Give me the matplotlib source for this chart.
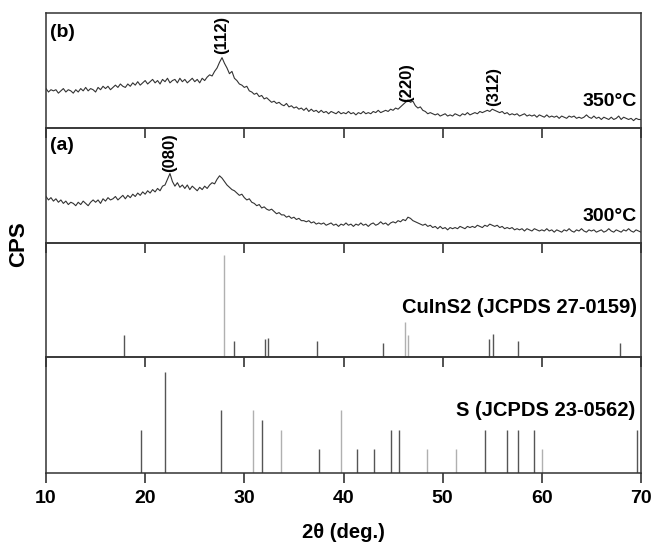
import numpy as np
import matplotlib
matplotlib.use("Agg")
import matplotlib.pyplot as plt

plt.rcParams['font.family'] = ['Liberation Sans', 'DejaVu Sans']

# ---------------- data ----------------
x_start, x_step = 10.0, 0.25

b_350 = [
    0.34, 0.31, 0.33, 0.32, 0.33, 0.30, 0.32, 0.34, 0.31, 0.33, 0.32, 0.30,
    0.33, 0.31, 0.34, 0.32, 0.35, 0.32, 0.34, 0.33, 0.31, 0.35, 0.33, 0.36,
    0.34, 0.36, 0.33, 0.35, 0.37, 0.35, 0.38, 0.36, 0.35, 0.38, 0.36, 0.39,
    0.37, 0.40, 0.37, 0.39, 0.41, 0.38, 0.40, 0.42, 0.39, 0.41, 0.38, 0.42,
    0.40, 0.43, 0.39, 0.41, 0.42, 0.39, 0.43, 0.40, 0.42, 0.39, 0.41, 0.43,
    0.40, 0.42, 0.39, 0.43, 0.41, 0.44, 0.46, 0.45, 0.49, 0.52, 0.57, 0.61,
    0.56, 0.52, 0.47, 0.49, 0.43, 0.41, 0.38, 0.37, 0.35, 0.36, 0.32, 0.31,
    0.29, 0.30, 0.27, 0.28, 0.25, 0.26, 0.24, 0.22, 0.23, 0.21, 0.22, 0.20,
    0.19, 0.21, 0.18, 0.19, 0.17, 0.18, 0.16, 0.17, 0.15, 0.17, 0.14, 0.16,
    0.14, 0.15, 0.13, 0.15, 0.13, 0.14, 0.12, 0.14, 0.13, 0.12, 0.14, 0.12,
    0.13, 0.12, 0.14, 0.12, 0.13, 0.11, 0.13, 0.12, 0.14, 0.12, 0.13, 0.12,
    0.14, 0.13, 0.15, 0.13, 0.14, 0.15, 0.14, 0.16, 0.15, 0.17, 0.16, 0.18,
    0.20, 0.22, 0.24, 0.22, 0.23, 0.19, 0.17, 0.18, 0.15, 0.14, 0.12, 0.13,
    0.12, 0.11, 0.12, 0.10, 0.11, 0.12, 0.10, 0.11, 0.10, 0.12, 0.11, 0.10,
    0.12, 0.11, 0.13, 0.11, 0.12, 0.13, 0.12, 0.14, 0.13, 0.14, 0.15, 0.14,
    0.16, 0.15, 0.14, 0.13, 0.14, 0.12, 0.13, 0.11, 0.12, 0.11, 0.12, 0.10,
    0.11, 0.12, 0.10, 0.11, 0.10, 0.11, 0.09, 0.11, 0.10, 0.09, 0.11, 0.09,
    0.10, 0.09, 0.10, 0.08, 0.10, 0.09, 0.08, 0.10, 0.09, 0.10, 0.08, 0.09,
    0.08, 0.09, 0.11, 0.09, 0.08, 0.10, 0.08, 0.09, 0.07, 0.09, 0.08, 0.07,
    0.09, 0.07, 0.08, 0.10, 0.07, 0.09, 0.08, 0.07, 0.08, 0.06, 0.08, 0.07,
    0.07,
]

a_300 = [
    0.40, 0.37, 0.39, 0.36, 0.38, 0.35, 0.37, 0.34, 0.36, 0.33, 0.35, 0.34,
    0.32, 0.35, 0.33, 0.36, 0.34, 0.32, 0.35, 0.37, 0.35, 0.37, 0.34, 0.38,
    0.36, 0.39, 0.37, 0.38, 0.40, 0.37, 0.39, 0.41, 0.38, 0.41, 0.39, 0.42,
    0.40, 0.43, 0.41, 0.44, 0.42, 0.45, 0.43, 0.46, 0.44, 0.47, 0.45, 0.49,
    0.50, 0.55, 0.60, 0.53, 0.49, 0.52, 0.48, 0.50, 0.47, 0.50, 0.46, 0.49,
    0.47, 0.45, 0.48, 0.46, 0.49, 0.47, 0.50, 0.52, 0.51, 0.55, 0.58, 0.56,
    0.53, 0.50, 0.48, 0.46, 0.45, 0.43, 0.41, 0.42, 0.39, 0.37, 0.38, 0.35,
    0.34, 0.32, 0.33, 0.30, 0.31, 0.29, 0.28, 0.29, 0.27, 0.25, 0.26, 0.24,
    0.24, 0.22, 0.23, 0.21, 0.22, 0.20, 0.21, 0.19, 0.19, 0.18, 0.19, 0.17,
    0.18, 0.16, 0.17, 0.16, 0.17, 0.15, 0.16, 0.17, 0.15, 0.16, 0.14, 0.16,
    0.15, 0.17, 0.15, 0.16, 0.14, 0.16, 0.15, 0.17, 0.15, 0.16, 0.14, 0.16,
    0.17, 0.15, 0.16, 0.18, 0.16, 0.17, 0.15, 0.17, 0.18, 0.17, 0.19, 0.18,
    0.20, 0.19, 0.22, 0.21, 0.19, 0.18, 0.17, 0.16, 0.15, 0.16, 0.14, 0.15,
    0.13, 0.14, 0.12, 0.14, 0.12, 0.13, 0.11, 0.13, 0.12, 0.13, 0.12, 0.14,
    0.13, 0.12, 0.14, 0.13, 0.14, 0.13, 0.15, 0.14, 0.13, 0.15, 0.14, 0.16,
    0.15, 0.14, 0.15, 0.13, 0.14, 0.12, 0.13, 0.12, 0.13, 0.11, 0.12, 0.11,
    0.12, 0.10, 0.12, 0.11, 0.10, 0.12, 0.11, 0.10, 0.11, 0.10, 0.12, 0.10,
    0.11, 0.09, 0.11, 0.10, 0.09, 0.11, 0.10, 0.12, 0.10, 0.09, 0.11, 0.10,
    0.12, 0.10, 0.09, 0.11, 0.10, 0.11, 0.09, 0.10, 0.11, 0.09, 0.10, 0.12,
    0.10, 0.09, 0.11, 0.10, 0.09, 0.11, 0.10, 0.12, 0.10, 0.09, 0.11, 0.10,
    0.09,
]

cuins2_pos = [17.9, 27.9, 29.0, 32.1, 32.35, 37.3, 44.0, 46.25, 46.47, 54.7, 55.08, 57.6, 67.85]
cuins2_int = [0.19, 0.89, 0.14, 0.16, 0.17, 0.14, 0.125, 0.31, 0.19, 0.16, 0.20, 0.14, 0.125]
cuins2_light = [0, 1, 0, 0, 0, 0, 0, 1, 1, 0, 0, 0, 0]

s_pos = [19.55, 22.05, 27.6, 30.9, 31.75, 33.7, 37.5, 39.75, 41.4, 43.05, 44.8, 45.6,
         48.4, 51.3, 54.3, 56.5, 57.6, 59.2, 60.0, 69.6]
s_int = [0.37, 0.87, 0.54, 0.54, 0.455, 0.37, 0.20, 0.54, 0.20, 0.20, 0.37, 0.37,
         0.20, 0.20, 0.37, 0.37, 0.37, 0.37, 0.20, 0.37]
s_light = [0, 0, 0, 1, 0, 1, 0, 1, 0, 0, 0, 0, 1, 1, 0, 0, 0, 0, 1, 0]

peaks_b = [("(112)", 27.7, 0.81), ("(220)", 46.35, 0.39), ("(312)", 55.15, 0.36)]
peaks_a = [("(080)", 22.45, 0.785)]

xticks = [10, 20, 30, 40, 50, 60, 70]

# ---------------- figure ----------------
fig = plt.figure(figsize=(6.54, 5.42), dpi=100)
left, right = 46 / 654, 641 / 654
bounds = [13, 127.5, 242.5, 357, 472.5]
axes = []
for i in range(4):
    top = 1 - bounds[i] / 542
    bot = 1 - bounds[i + 1] / 542
    ax = fig.add_axes([left, bot, right - left, top - bot])
    ax.set_facecolor('none')
    ax.set_xlim(10, 70)
    ax.set_ylim(0, 1)
    ax.set_yticks([])
    ax.set_xticks(xticks)
    ax.tick_params(axis='x', direction='out', length=7, width=1.1, color='#222222',
                   labelbottom=(i == 3), labelsize=14, pad=5.5)
    for sp in ax.spines.values():
        sp.set_linewidth(1.1)
        sp.set_color('#333333')
    axes.append(ax)

xs = x_start + x_step * np.arange(len(b_350))
ax_b, ax_a, ax_c, ax_s = axes

ax_b.plot(xs, b_350, color='#333333', lw=0.8)
ax_a.plot(xs, a_300, color='#333333', lw=0.8)

ax_b.text(0.006, 0.83, "(b)", transform=ax_b.transAxes, fontsize=14, fontweight='bold',
          va='center', ha='left')
ax_a.text(0.006, 0.845, "(a)", transform=ax_a.transAxes, fontsize=14, fontweight='bold',
          va='center', ha='left')
ax_b.text(0.993, 0.23, "350°C", transform=ax_b.transAxes, fontsize=14, fontweight='bold',
          va='center', ha='right')
ax_a.text(0.993, 0.23, "300°C", transform=ax_a.transAxes, fontsize=14, fontweight='bold',
          va='center', ha='right')
for lab, px, py in peaks_b:
    ax_b.text(px, py, lab, rotation=90, fontsize=12, fontweight='bold', ha='center', va='center')
for lab, px, py in peaks_a:
    ax_a.text(px, py, lab, rotation=90, fontsize=12, fontweight='bold', ha='center', va='center')

c_cols = ['#b0b0b0' if l else '#555555' for l in cuins2_light]
ax_c.vlines(cuins2_pos, 0, cuins2_int, colors=c_cols, lw=1.0)
ax_c.text(0.993, 0.43, "CuInS2 (JCPDS 27-0159)", transform=ax_c.transAxes, fontsize=14.5,
          fontweight='bold', va='center', ha='right')

s_cols = ['#b0b0b0' if l else '#555555' for l in s_light]
ax_s.vlines(s_pos, 0, s_int, colors=s_cols, lw=1.0)
ax_s.text(0.99, 0.54, "S (JCPDS 23-0562)", transform=ax_s.transAxes, fontsize=14.5,
          fontweight='bold', va='center', ha='right')

for lab in ax_s.get_xticklabels():
    lab.set_fontweight('bold')

fig.text((46 + 641) / 2 / 654, 1 - 532 / 542, "2θ (deg.)", fontsize=14.5, fontweight='bold',
         ha='center', va='center')
fig.text(18.5 / 654, 1 - 244 / 542, "CPS", rotation=90, fontsize=16, fontweight='bold',
         va='center', ha='center')

fig.savefig("out.png", dpi=100)
